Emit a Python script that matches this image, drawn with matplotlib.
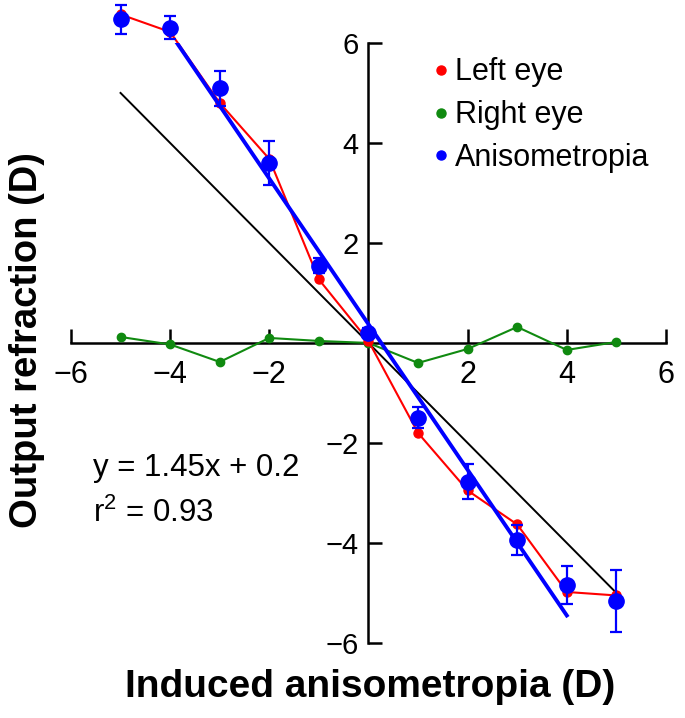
# Refrazione in uscita vs anisometropia indotta

import matplotlib
matplotlib.use("Agg")
import matplotlib.pyplot as plt

plt.rcParams["font.family"] = ["Liberation Sans", "DejaVu Sans"]
plt.rcParams["mathtext.fontset"] = "custom"
plt.rcParams["mathtext.rm"] = "Liberation Sans"
plt.rcParams["mathtext.it"] = "Liberation Sans"

# DATI
induced = [-5, -4, -3, -2, -1, 0, 1, 2, 3, 4, 5]
left_eye = [6.57, 6.22, 4.8, 3.68, 1.27, 0.04, -1.8, -2.95, -3.63, -4.98, -5.05]
right_eye = [0.12, -0.03, -0.38, 0.1, 0.04, 0.0, -0.4, -0.12, 0.32, -0.14, 0.02]
aniso = [6.47, 6.3, 5.09, 3.59, 1.54, 0.2, -1.5, -2.78, -3.95, -4.85, -5.17]
aniso_err = [0.29, 0.23, 0.35, 0.44, 0.15, 0.1, 0.21, 0.35, 0.3, 0.38, 0.62]

fit_x = [-4, 4]
fit_y = [6.2, -5.45]
unity_x = [-5, 5]
unity_y = [5, -5]

ticks = [-6, -4, -2, 2, 4, 6]
tick_labels = ["\u22126", "\u22124", "\u22122", "2", "4", "6"]

fig = plt.figure(figsize=(6.85, 7.18), dpi=100)
ax = fig.add_axes([0.1036, 0.1045, 0.8686, 0.8357])

ax.plot(unity_x, unity_y, color="black", lw=1.4, zorder=2)
ax.plot(induced, right_eye, color="#108a10", lw=1.5, marker="o", ms=6,
        clip_on=False, zorder=3)
ax.plot(induced, left_eye, color="#ff0000", lw=1.5, marker="o", ms=6.5,
        clip_on=False, zorder=4)
ax.plot(fit_x, fit_y, color="#0000ff", lw=2.8, zorder=5)
ax.errorbar(induced, aniso, yerr=aniso_err, fmt="o", color="#0000ff",
            ms=11, elinewidth=1.6, capsize=4, capthick=1.6, zorder=6,
            clip_on=False)

ax.set_xlim(-6, 6)
ax.set_ylim(-6, 6)
for s in ["right", "top"]:
    ax.spines[s].set_visible(False)
ax.spines["left"].set_position("zero")
ax.spines["bottom"].set_position("zero")
ax.spines["left"].set_linewidth(1.8)
ax.spines["bottom"].set_linewidth(1.8)

ax.set_xticks(ticks)
ax.set_xticklabels(tick_labels)
ax.set_yticks(ticks)
ax.set_yticklabels(tick_labels)
ax.tick_params(direction="in", length=10, width=1.8)
ax.tick_params(axis="x", labelsize=22, pad=12)
ax.tick_params(axis="y", labelsize=21, pad=7)

# legenda solo con i punti
h1, = ax.plot([], [], "o", color="#ff0000", ms=6.5)
h2, = ax.plot([], [], "o", color="#108a10", ms=6.5)
h3, = ax.plot([], [], "o", color="#0000ff", ms=6.5)
ax.legend([h1, h2, h3], ["Left eye", "Right eye", "Anisometropia"],
          loc="upper left", bbox_to_anchor=(0.633, 0.92),
          bbox_transform=fig.transFigure, frameon=False, fontsize=22,
          handlelength=0.5, handletextpad=0.2, labelspacing=0.42,
          borderpad=0, borderaxespad=0)

ax.text(-5.55, -2.5, "y = 1.45x + 0.2", fontsize=22.5, va="center", ha="left")
ax.text(-5.55, -3.4, "r$^2$ = 0.93", fontsize=22.5, va="center", ha="left")

fig.text(0.54, 0.043, "Induced anisometropia (D)", fontsize=28,
         fontweight="bold", ha="center", va="center")
fig.text(0.039, 0.526, "Output refraction (D)", fontsize=27.5,
         fontweight="bold", ha="center", va="center", rotation=90)

fig.savefig("out.png", dpi=100)
plt.close(fig)
